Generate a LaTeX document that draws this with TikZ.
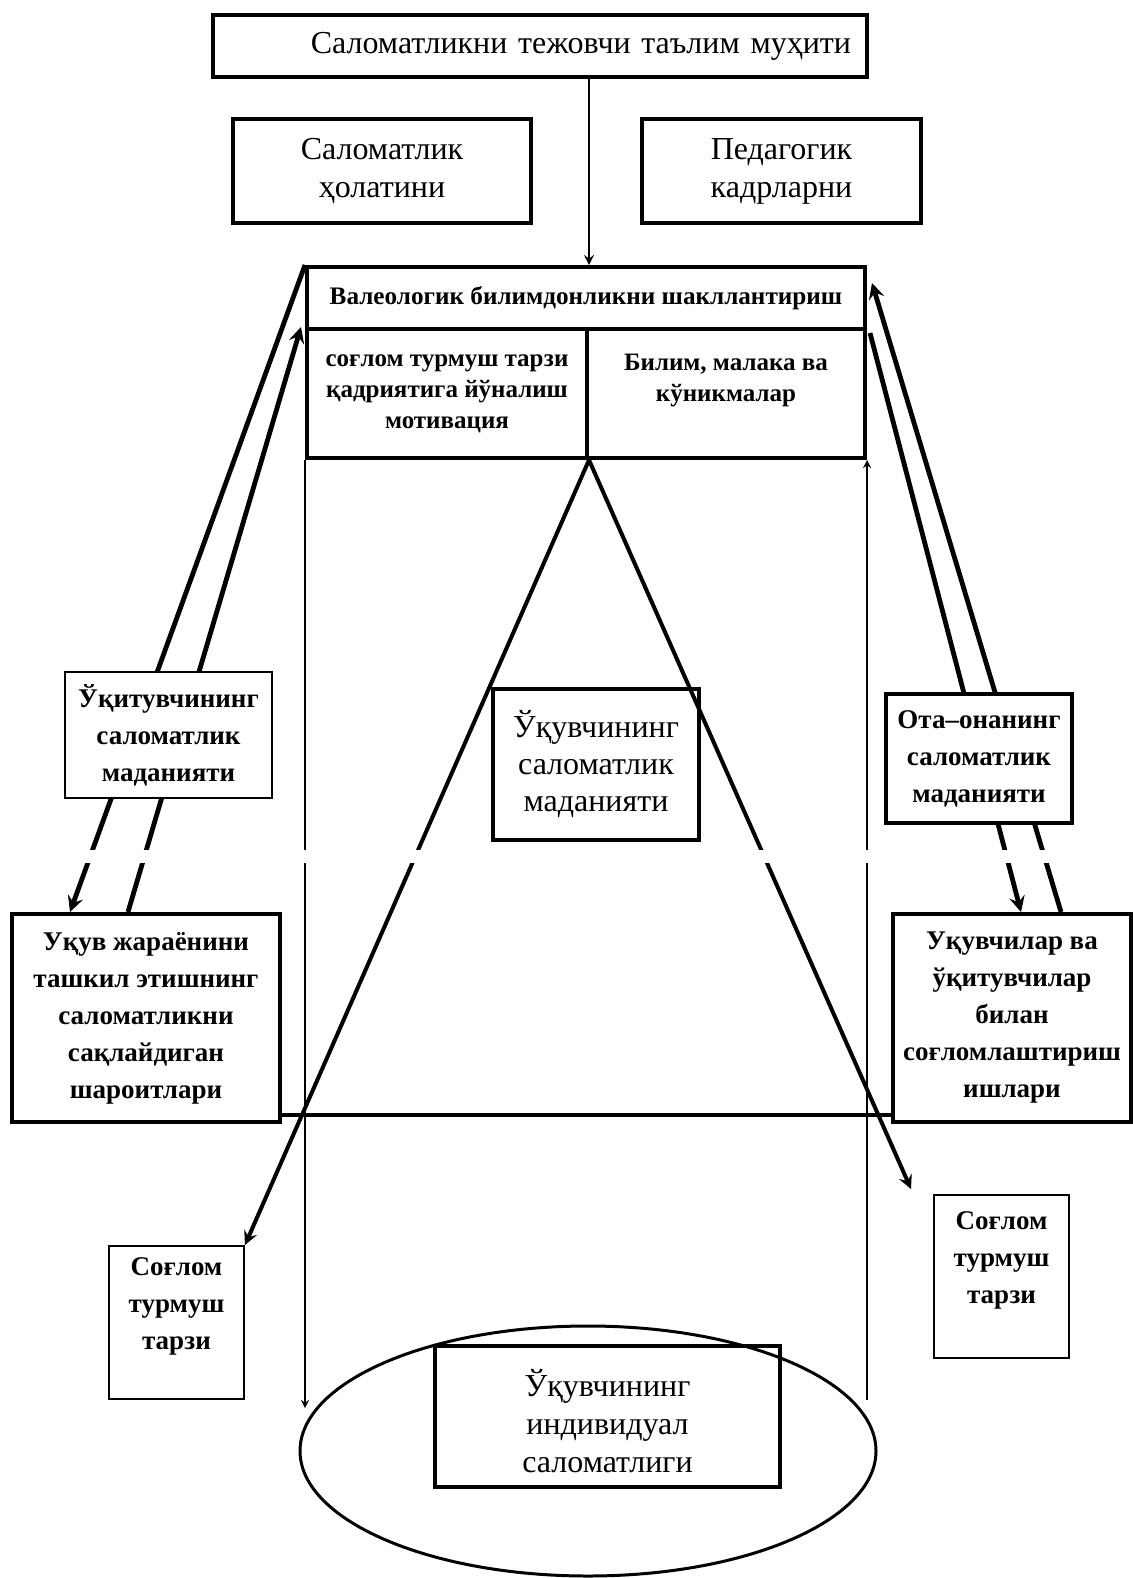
\documentclass[tikz,border=0pt]{standalone}
\usepackage{fontspec}
\setmainfont{Liberation Serif}
\usetikzlibrary{shapes.geometric,calc,backgrounds}

\tikzstyle{line} = [line width=2pt]
\tikzstyle{arw} = [->, line width=2.4pt, >=stealth]
\tikzstyle{legarw} = [->, line width=2pt, >=stealth]
\tikzstyle{medarw} = [->, line width=1.2pt, >=stealth]
\tikzstyle{thinarw} = [->, line width=0.8pt, >=stealth]
\tikzstyle{box} = [draw, line width=2pt, align=center, inner sep=0pt]
\tikzstyle{thinbox} = [box, line width=1pt]

\newcommand{\txtreg}{\fontsize{16}{19}\selectfont}
\newcommand{\txtbf}{\fontsize{13.5}{18.5}\selectfont\bfseries}
\newcommand{\txtsm}{\fontsize{12.5}{15.5}\selectfont\bfseries}

\begin{document}
\begin{tikzpicture}[x=0.5pt,y=-0.5pt]
\useasboundingbox (0,0) rectangle (1133,1578);

% top row
\node[box, minimum width=327pt, minimum height=31pt, text width=311pt, align=right, font=\txtreg] (env) at (540,46) {Саломатликни тежовчи таълим муҳити};
\node[box, minimum width=149pt, minimum height=52pt, font=\txtreg] (health) at (382,171) {Саломатлик\\ҳолатини};
\node[box, minimum width=139.5pt, minimum height=52pt, font=\txtreg] (staff) at (781.5,171) {Педагогик\\кадрларни};

% valeology block
\node[box, minimum width=279pt, minimum height=31pt, font=\fontsize{12.6}{15}\selectfont\bfseries] (valeo) at (586,298) {Валеологик билимдонликни шакллантириш};
\node[box, minimum width=140pt, minimum height=64.5pt, font=\txtsm] (motiv) at (447,393.5) {соғлом турмуш тарзи\\қадриятига йўналиш\\мотивация};
\node[box, minimum width=139pt, minimum height=64.5pt, font=\txtsm] (skill) at (726,393.5) {Билим, малака ва\\кўникмалар\\\mbox{}};

% culture boxes
\node[thinbox, fill=white, minimum width=103.5pt, minimum height=63pt, font=\txtbf] (teacher) at (168.5,735) {Ўқитувчининг\\саломатлик\\маданияти};
\node[box, minimum width=103pt, minimum height=75.5pt, font=\fontsize{16}{18.5}\selectfont] (pupil) at (596,764.5) {Ўқувчининг\\саломатлик\\маданияти};
\node[box, fill=white, minimum width=93pt, minimum height=64.5pt, font=\txtbf] (parent) at (979,758.5) {Ота–онанинг\\саломатлик\\маданияти};

% conditions boxes
\node[box, minimum width=134pt, minimum height=104pt, font=\txtbf] (process) at (146,1018) {Уқув жараёнини\\ташкил этишнинг\\саломатликни\\сақлайдиган\\шароитлари};
\node[box, minimum width=119pt, minimum height=104pt, font=\txtbf] (work) at (1012,1018) {Уқувчилар ва\\ўқитувчилар\\билан\\соғломлаштириш\\ишлари};

% lifestyle boxes
\node[thinbox, minimum width=67.5pt, minimum height=76.5pt, font=\txtbf] (lifeL) at (176.5,1322.5) {Соғлом\\турмуш\\тарзи\\\mbox{}};
\node[thinbox, minimum width=67.5pt, minimum height=81.5pt, font=\txtbf] (lifeR) at (1001.5,1276.5) {Соғлом\\турмуш\\тарзи\\\mbox{}};

% individual health
\node[draw, ellipse, line width=1.5pt, minimum width=288pt, minimum height=125pt] (ell) at (588,1451) {};
\node[box, minimum width=172.5pt, minimum height=70.5pt, font=\txtreg] (indiv) at (607.5,1416.5) {\rule{0pt}{18pt}Ўқувчининг\\индивидуал\\саломатлиги};

% connectors
\coordinate (lb) at (305,1408);
\coordinate (rb) at (867,1400);
\coordinate (rtip) at (911,1189);
\draw[medarw] (env.south -| motiv.east) -- (valeo.north -| motiv.east);
\draw[thinarw] (motiv.south west) -- (motiv.south west |- lb);
\draw[thinarw] (skill.south east |- rb) -- (skill.south east);

\begin{scope}[on background layer]
\draw[arw] (valeo.north west) -- ($(process.north west)+(60,0)$);
\draw[arw] ($(process.north west)+(118,0)$) -- ($(motiv.north west)+(-4,0)$);
\draw[arw] ($(skill.north east)+(3,6)$) -- ($(work.north west)+(130,0)$);
\draw[arw] ($(work.north west)+(170,0)$) -- ($(valeo.north east)+(5,18)$);
\end{scope}

\draw[legarw] (motiv.south east) -- (lifeL.north east);
\draw[legarw] (motiv.south east) -- (rtip);
\draw[line] ($(process.south east)+(0,-9)$) -- ($(work.south west)+(0,-9)$);

\fill[white] (0,850) rectangle (1133,863);

\end{tikzpicture}
\end{document}
